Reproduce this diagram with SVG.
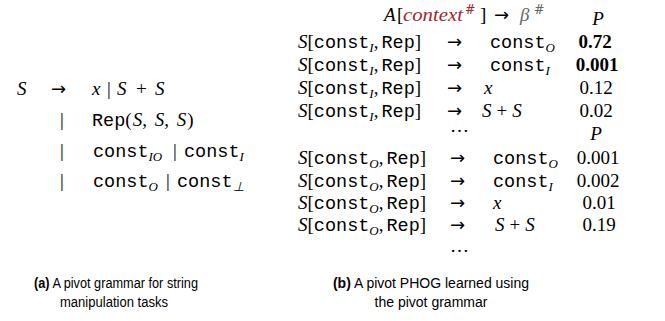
<svg xmlns="http://www.w3.org/2000/svg" width="665" height="321" viewBox="0 0 665 321">
<style>
text{fill:#000}
.m{font-family:"Liberation Serif",serif;font-style:italic;font-size:19px}
.u{font-family:"Liberation Serif",serif;font-style:normal;font-size:19px}
.ar{font-family:"DejaVu Sans",sans-serif;font-size:18px}
.t{font-family:"Liberation Mono",monospace;font-style:normal;font-size:18.5px}
.sb{font-family:"Liberation Serif",serif;font-style:italic;font-size:13px}
.sp{font-family:"DejaVu Serif",serif;font-size:12.5px}
.b{font-family:"Liberation Serif",serif;font-weight:bold;font-size:19px}
.p{text-anchor:middle}
.red{fill:#a3262a}
.gry{fill:#666}
.cap{font-family:"Liberation Sans",Arial,sans-serif;font-size:14px}
.cap .bb{font-weight:bold}
.c{text-anchor:middle}
</style>

<g id="grammar">
  <text class="m" x="17" y="95">S</text>
  <text class="ar" x="51" y="95">→</text>
  <text class="m" x="92" y="95">x</text>
  <text class="u" x="107" y="95">|</text>
  <text class="m" x="117" y="95">S</text>
  <text class="u" x="136" y="95">+</text>
  <text class="m" x="155" y="95">S</text>

  <text class="u" x="60" y="126">|</text>
  <text x="92" y="126"><tspan class="t">Rep</tspan><tspan class="u">(</tspan><tspan class="m" dx="1">S</tspan><tspan class="u">, </tspan><tspan class="m" dx="3">S</tspan><tspan class="u">, </tspan><tspan class="m" dx="3">S</tspan><tspan class="u" dx="1">)</tspan></text>

  <text class="u" x="60" y="157">|</text>
  <text x="93" y="157"><tspan class="t">const</tspan><tspan class="sb" dy="4">IO</tspan></text>
  <text class="u" x="173" y="157">|</text>
  <text x="184" y="157"><tspan class="t">const</tspan><tspan class="sb" dy="4">I</tspan></text>

  <text class="u" x="60" y="187">|</text>
  <text x="93" y="187"><tspan class="t">const</tspan><tspan class="sb" dy="4">O</tspan></text>
  <text class="u" x="166" y="187">|</text>
  <text x="177" y="187"><tspan class="t">const</tspan><tspan class="sb" dy="4">⊥</tspan></text>
</g>

<g id="phog-table">
  <g id="header">
    <text class="m" x="384" y="21">A</text>
    <text class="u" x="397" y="21">[</text>
    <text class="m red" x="403" y="21" textLength="60" lengthAdjust="spacingAndGlyphs">context</text>
    <text class="sp red" x="465" y="14">#</text>
    <text class="u" x="480" y="21">]</text>
    <text class="ar" x="494" y="21">→</text>
    <text class="m gry" x="520" y="21">β</text>
    <text class="sp gry" x="534" y="14">#</text>
  </g>
  <text class="m p" x="598" y="25">P</text>

  <g id="row1">
    <text x="298" y="47.5"><tspan class="m">S</tspan><tspan class="u">[</tspan><tspan class="t">const</tspan><tspan class="sb" dy="4">I</tspan><tspan class="u" dy="-4">,</tspan><tspan class="t" dx="3">Rep</tspan><tspan class="u">]</tspan></text>
    <text class="ar" x="447" y="47.5">→</text>
    <text x="490" y="47.5"><tspan class="t">const</tspan><tspan class="sb" dy="4">O</tspan></text>
    <text class="b p" x="595" y="47.5">0.72</text>
  </g>
  <g id="row2">
    <text x="298" y="70.5"><tspan class="m">S</tspan><tspan class="u">[</tspan><tspan class="t">const</tspan><tspan class="sb" dy="4">I</tspan><tspan class="u" dy="-4">,</tspan><tspan class="t" dx="3">Rep</tspan><tspan class="u">]</tspan></text>
    <text class="ar" x="447" y="70.5">→</text>
    <text x="490" y="70.5"><tspan class="t">const</tspan><tspan class="sb" dy="4">I</tspan></text>
    <text class="b p" x="597" y="70.5">0.001</text>
  </g>
  <g id="row3">
    <text x="298" y="93.5"><tspan class="m">S</tspan><tspan class="u">[</tspan><tspan class="t">const</tspan><tspan class="sb" dy="4">I</tspan><tspan class="u" dy="-4">,</tspan><tspan class="t" dx="3">Rep</tspan><tspan class="u">]</tspan></text>
    <text class="ar" x="447" y="93.5">→</text>
    <text class="m" x="484" y="93.5">x</text>
    <text class="u p" x="596" y="93.5">0.12</text>
  </g>
  <g id="row4">
    <text x="298" y="116.5"><tspan class="m">S</tspan><tspan class="u">[</tspan><tspan class="t">const</tspan><tspan class="sb" dy="4">I</tspan><tspan class="u" dy="-4">,</tspan><tspan class="t" dx="3">Rep</tspan><tspan class="u">]</tspan></text>
    <text class="ar" x="447" y="116.5">→</text>
    <text x="482" y="116.5"><tspan class="m">S</tspan><tspan class="u" dx="5">+</tspan><tspan class="m" dx="5">S</tspan></text>
    <text class="u p" x="596" y="116.5">0.02</text>
  </g>
  <text class="u" x="450" y="132">…</text>
  <text class="m p" x="596" y="140">P</text>

  <g id="row5">
    <text x="298" y="164"><tspan class="m">S</tspan><tspan class="u">[</tspan><tspan class="t">const</tspan><tspan class="sb" dy="4">O</tspan><tspan class="u" dy="-4">,</tspan><tspan class="t" dx="3">Rep</tspan><tspan class="u">]</tspan></text>
    <text class="ar" x="450" y="164">→</text>
    <text x="493" y="164"><tspan class="t">const</tspan><tspan class="sb" dy="4">O</tspan></text>
    <text class="u p" x="598" y="164">0.001</text>
  </g>
  <g id="row6">
    <text x="298" y="187"><tspan class="m">S</tspan><tspan class="u">[</tspan><tspan class="t">const</tspan><tspan class="sb" dy="4">O</tspan><tspan class="u" dy="-4">,</tspan><tspan class="t" dx="3">Rep</tspan><tspan class="u">]</tspan></text>
    <text class="ar" x="450" y="187">→</text>
    <text x="493" y="187"><tspan class="t">const</tspan><tspan class="sb" dy="4">I</tspan></text>
    <text class="u p" x="598" y="187">0.002</text>
  </g>
  <g id="row7">
    <text x="298" y="209"><tspan class="m">S</tspan><tspan class="u">[</tspan><tspan class="t">const</tspan><tspan class="sb" dy="4">O</tspan><tspan class="u" dy="-4">,</tspan><tspan class="t" dx="3">Rep</tspan><tspan class="u">]</tspan></text>
    <text class="ar" x="450" y="209">→</text>
    <text class="m" x="493" y="209">x</text>
    <text class="u p" x="599" y="209">0.01</text>
  </g>
  <g id="row8">
    <text x="298" y="231"><tspan class="m">S</tspan><tspan class="u">[</tspan><tspan class="t">const</tspan><tspan class="sb" dy="4">O</tspan><tspan class="u" dy="-4">,</tspan><tspan class="t" dx="3">Rep</tspan><tspan class="u">]</tspan></text>
    <text class="ar" x="450" y="231">→</text>
    <text x="495" y="231"><tspan class="m">S</tspan><tspan class="u" dx="5">+</tspan><tspan class="m" dx="5">S</tspan></text>
    <text class="u p" x="599" y="231">0.19</text>
  </g>
  <text class="u" x="450" y="252">…</text>
</g>

<g id="captions">
  <text class="cap" x="34" y="288" textLength="164" lengthAdjust="spacingAndGlyphs"><tspan class="bb">(a)</tspan> A pivot grammar for string</text>
  <text class="cap" x="60" y="307" textLength="108" lengthAdjust="spacingAndGlyphs">manipulation tasks</text>
  <text class="cap c" x="431" y="288"><tspan class="bb">(b)</tspan> A pivot PHOG learned using</text>
  <text class="cap c" x="431" y="307">the pivot grammar</text>
</g>
</svg>
